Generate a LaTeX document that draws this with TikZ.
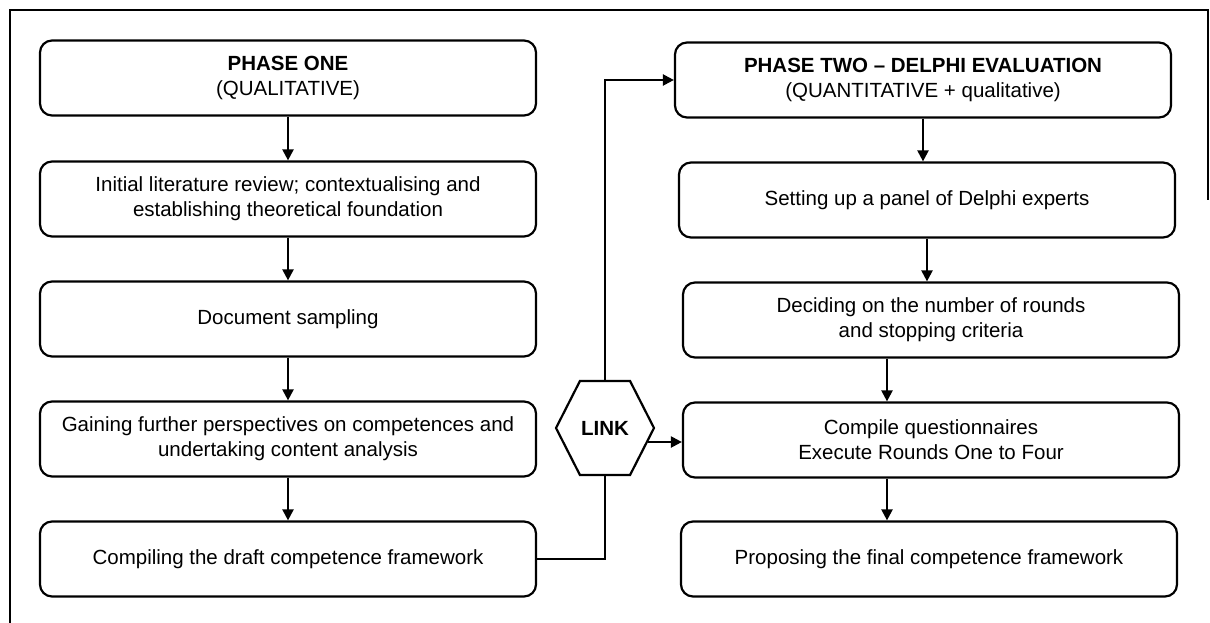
\documentclass[tikz,border=0pt]{standalone}
\usepackage{fontspec}
\setmainfont{Liberation Sans}
\usetikzlibrary{arrows.meta,shapes.symbols}
\begin{document}
\begin{tikzpicture}[x=1pt,y=-1pt,
    stage/.style={draw, line width=2.2pt, rounded corners=12pt, minimum width=496pt,
      minimum height=75pt, align=center, font=\fontsize{20.5}{25}\selectfont},
    linkbox/.style={draw, line width=2.2pt, shape=signal, signal to=east and west,
      signal pointer angle=126, minimum width=98pt, minimum height=94pt,
      inner sep=0pt, font=\bfseries\fontsize{20.5}{22}\selectfont},
    arr/.style={line width=2.2pt, -{Triangle[length=11pt,width=11pt]}}]
  \useasboundingbox (0,0) rectangle (1210,623);
  \draw[line width=2pt] (10,623) -- (10,10) -- (1208,10) -- (1208,200);

  \node[stage] (one) at (288,78) {\textbf{PHASE ONE}\\(QUALITATIVE)};
  \node[stage] (lit) at (288,199) {Initial literature review; contextualising and\\establishing theoretical foundation};
  \node[stage] (sampling) at (288,319) {Document sampling};
  \node[stage] (gaining) at (288,439) {Gaining further perspectives on competences and\\undertaking content analysis};
  \node[stage] (draft) at (288,559) {Compiling the draft competence framework};

  \node[stage] (two) at (923,80) {\textbf{PHASE TWO -- DELPHI EVALUATION}\\(QUANTITATIVE + qualitative)};
  \node[stage] (panel) at (927,200) {Setting up a panel of Delphi experts};
  \node[stage] (rounds) at (931,320) {Deciding on the number of rounds\\and stopping criteria};
  \node[stage] (compile) at (931,440) {Compile questionnaires\\Execute Rounds One to Four};
  \node[stage] (final) at (929,559) {Proposing the final competence framework};

  \node[linkbox] (link) at (605,428) {LINK};

  \draw[arr] (one) -- (lit);
  \draw[arr] (lit) -- (sampling);
  \draw[arr] (sampling) -- (gaining);
  \draw[arr] (gaining) -- (draft);

  \draw[arr] (two.south) -- (two.south |- panel.north);
  \draw[arr] (panel.south) -- (panel.south |- rounds.north);
  \draw[arr] ([xshift=-44pt]rounds.south) -- ([xshift=-44pt]compile.north);
  \draw[arr] ([xshift=-44pt]compile.south) -- ([xshift=-44pt]compile.south |- final.north);

  \draw[line width=2.2pt] (draft.east) -| (link.south);
  \draw[arr] (link.north) |- (two.west);
  \draw[arr] (link.-18) -- (link.-18 -| compile.west);
\end{tikzpicture}
\end{document}
